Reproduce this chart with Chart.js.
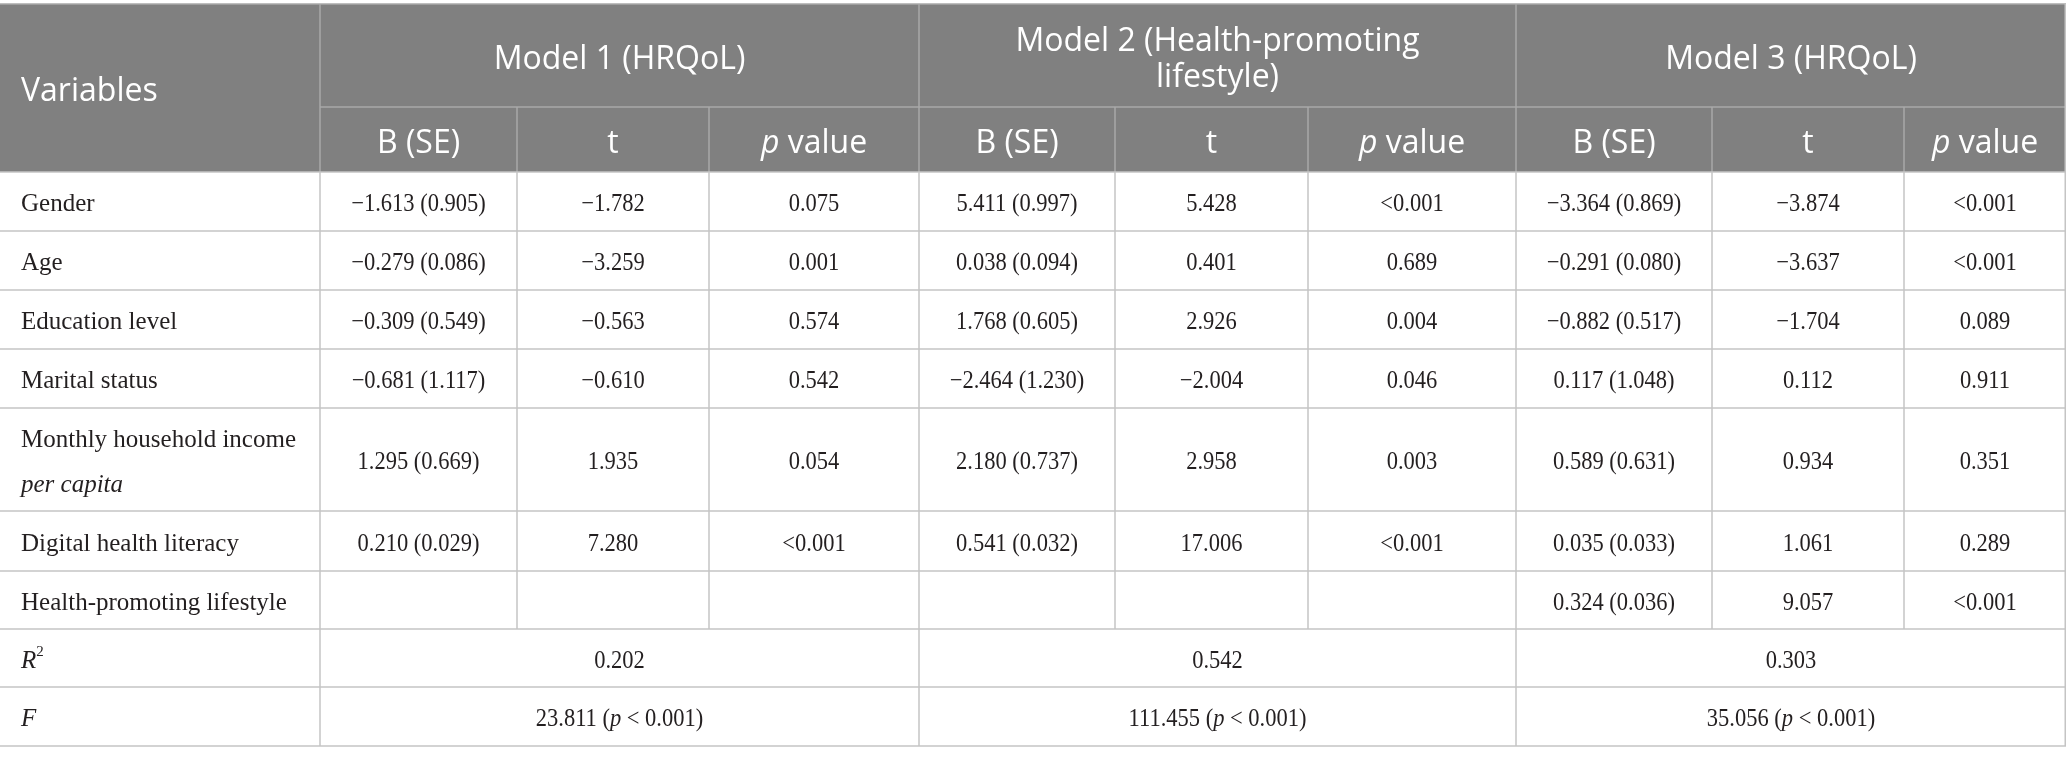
<!DOCTYPE html>
<html>
<head>
<meta charset="utf-8">
<script src="https://cdn.jsdelivr.net/npm/chart.js@4/dist/chart.umd.min.js"></script>
<style>
  html, body { margin: 0; padding: 0; background: #fff; }
  #wrap { width: 2067px; height: 762px; position: relative; }
</style>
</head>
<body>
<div id="wrap"><canvas id="tableChart"></canvas></div>
<script>
// table content
const variables = ["Gender", "Age", "Education level", "Marital status",
    "Monthly household income|per capita", "Digital health literacy", "Health-promoting lifestyle"];
const modelTitles = ["Model 1 (HRQoL)", "Model 2 (Health-promoting|lifestyle)", "Model 3 (HRQoL)"];
const subHeaders = ["B (SE)", "t", "p value"];

const m1B  = [-1.613, -0.279, -0.309, -0.681, 1.295, 0.210, null];
const m1SE = [0.905, 0.086, 0.549, 1.117, 0.669, 0.029, null];
const m1T  = [-1.782, -3.259, -0.563, -0.610, 1.935, 7.280, null];
const m1P  = ["0.075", "0.001", "0.574", "0.542", "0.054", "<0.001", ""];

const m2B  = [5.411, 0.038, 1.768, -2.464, 2.180, 0.541, null];
const m2SE = [0.997, 0.094, 0.605, 1.230, 0.737, 0.032, null];
const m2T  = [5.428, 0.401, 2.926, -2.004, 2.958, 17.006, null];
const m2P  = ["<0.001", "0.689", "0.004", "0.046", "0.003", "<0.001", ""];

const m3B  = [-3.364, -0.291, -0.882, 0.117, 0.589, 0.035, 0.324];
const m3SE = [0.869, 0.080, 0.517, 1.048, 0.631, 0.033, 0.036];
const m3T  = [-3.874, -3.637, -1.704, 0.112, 0.934, 1.061, 9.057];
const m3P  = ["<0.001", "<0.001", "0.089", "0.911", "0.351", "0.289", "<0.001"];

const rSquared = [0.202, 0.542, 0.303];
const fValues  = [23.811, 111.455, 35.056];
const fP = "<0.001";

// layout (in scale units, 1 unit ~ 1px)
const colWidths = [320, 197, 192, 210, 196, 193, 208, 196, 192, 162];
const tableTop = 4;
const rowHeights = [103, 65, 59, 59, 59, 59, 103, 60, 58, 58, 59];

const HEAD_FONT = '"Open Sans", "Noto Sans", sans-serif';
const BODY_FONT = '"Liberation Serif", "DejaVu Serif", serif';
const NUM_SQUEEZE = 0.9;   // reference figures are narrower than Times digits

function fmt(v) {
    if (v === null) return "";
    const s = Math.abs(v).toFixed(3);
    return v < 0 ? "\u2212" + s : s;
}

function cum(start, arr) {
    const out = [start];
    arr.forEach(w => out.push(out[out.length - 1] + w));
    return out;
}

// draw a list of text runs ({t, i, sup}) centred or left aligned
function drawRuns(ctx, runs, x, y, size, family, align, color, squeeze = 1) {
    const fontOf = r => `${r.i ? "italic " : ""}${r.sup ? Math.round(size * 0.6) : size}px ${family}`;
    let total = 0;
    runs.forEach(r => { ctx.font = fontOf(r); total += ctx.measureText(r.t).width; });
    total *= squeeze;
    let cx = align === "center" ? x - total / 2 : x;
    ctx.save();
    ctx.translate(cx, y);
    ctx.scale(squeeze, 1);
    ctx.fillStyle = color;
    ctx.textBaseline = "middle";
    ctx.textAlign = "left";
    let off = 0;
    runs.forEach(r => {
        ctx.font = fontOf(r);
        ctx.fillText(r.t, off, r.sup ? -size * 0.35 : 0);
        off += ctx.measureText(r.t).width;
    });
    ctx.restore();
}

const tablePlugin = {
    id: "tablePlugin",
    afterDraw(chart) {
        const ctx = chart.ctx;
        const sx = chart.scales.x, sy = chart.scales.y;
        const cx = cum(0, colWidths).map(v => sx.getPixelForValue(v));
        const ry = cum(tableTop, rowHeights).map(v => sy.getPixelForValue(v));
        const right = cx[cx.length - 1];

        ctx.save();
        // header background
        ctx.fillStyle = "#808080";
        ctx.fillRect(cx[0], ry[0], right - cx[0], ry[2] - ry[0]);

        const line = (x1, y1, x2, y2, color, w) => {
            ctx.strokeStyle = color;
            ctx.lineWidth = w;
            ctx.beginPath();
            ctx.moveTo(x1, y1);
            ctx.lineTo(x2, y2);
            ctx.stroke();
        };

        // header separators
        const hc = "#a8a8a8";
        line(cx[0], ry[0], right, ry[0], hc, 1.5);
        [1, 4, 7].forEach(c => line(cx[c], ry[0], cx[c], ry[2], hc, 1.5));
        [2, 3, 5, 6, 8, 9].forEach(c => line(cx[c], ry[1], cx[c], ry[2], hc, 1.5));
        line(cx[1], ry[1], right, ry[1], hc, 1.5);

        // body grid
        const bc = "#c4c4c4";
        for (let r = 2; r < ry.length; r++) line(cx[0], ry[r], right, ry[r], bc, 1.5);
        const lastVarRow = 2 + variables.length;
        [1, 4, 7].forEach(c => line(cx[c], ry[2], cx[c], ry[ry.length - 1], bc, 1.5));
        [2, 3, 5, 6, 8, 9].forEach(c => line(cx[c], ry[2], cx[c], ry[lastVarRow], bc, 1.5));
        line(right - 0.75, ry[0], right - 0.75, ry[ry.length - 1], bc, 1.5);

        // header text
        const white = "#ffffff";
        const hs = 32;
        const hOff = 4;
        drawRuns(ctx, [{ t: "Variables" }], cx[0] + 21, (ry[0] + ry[2]) / 2 + hOff, hs, HEAD_FONT, "left", white);
        modelTitles.forEach((title, m) => {
            const x = (cx[1 + m * 3] + cx[4 + m * 3]) / 2;
            const lines = title.split("|");
            const mid = (ry[0] + ry[1]) / 2 + hOff;
            const lh = 36;
            lines.forEach((ln, k) => {
                const y = mid + (k - (lines.length - 1) / 2) * lh;
                drawRuns(ctx, [{ t: ln }], x, y, hs, HEAD_FONT, "center", white);
            });
            subHeaders.forEach((sh, k) => {
                const c = 1 + m * 3 + k;
                const sx2 = (cx[c] + cx[c + 1]) / 2;
                const runs = sh === "p value" ? [{ t: "p", i: true }, { t: " value" }] : [{ t: sh }];
                drawRuns(ctx, runs, sx2, (ry[1] + ry[2]) / 2 + hOff, hs, HEAD_FONT, "center", white);
            });
        });

        // body text
        const ink = "#231f20";
        const bs = 25;
        const bOff = 3;
        const models = [[m1B, m1SE, m1T, m1P], [m2B, m2SE, m2T, m2P], [m3B, m3SE, m3T, m3P]];
        variables.forEach((v, i) => {
            const top = ry[2 + i], bot = ry[3 + i];
            const mid = (top + bot) / 2 + bOff;
            const parts = v.split("|");
            if (parts.length === 1) {
                drawRuns(ctx, [{ t: v }], cx[0] + 21, mid, bs, BODY_FONT, "left", ink);
            } else {
                drawRuns(ctx, [{ t: parts[0] }], cx[0] + 21, mid - 22, bs, BODY_FONT, "left", ink);
                drawRuns(ctx, [{ t: parts[1], i: true }], cx[0] + 21, mid + 23, bs, BODY_FONT, "left", ink);
            }
            models.forEach(([b, se, t, p], m) => {
                const c = 1 + m * 3;
                const cells = [
                    b[i] === null ? "" : `${fmt(b[i])} (${fmt(se[i])})`,
                    fmt(t[i]),
                    p[i]
                ];
                cells.forEach((txt, k) => {
                    if (!txt) return;
                    const x = (cx[c + k] + cx[c + k + 1]) / 2;
                    drawRuns(ctx, [{ t: txt }], x, mid, bs, BODY_FONT, "center", ink, NUM_SQUEEZE);
                });
            });
        });

        // R2 and F rows
        const rRow = 2 + variables.length;
        const rMid = (ry[rRow] + ry[rRow + 1]) / 2 + bOff;
        const fMid = (ry[rRow + 1] + ry[rRow + 2]) / 2 + bOff;
        drawRuns(ctx, [{ t: "R", i: true }, { t: "2", sup: true }], cx[0] + 21, rMid, bs, BODY_FONT, "left", ink);
        drawRuns(ctx, [{ t: "F", i: true }], cx[0] + 21, fMid, bs, BODY_FONT, "left", ink);
        rSquared.forEach((r, m) => {
            const x = (cx[1 + m * 3] + cx[4 + m * 3]) / 2;
            drawRuns(ctx, [{ t: r.toFixed(3) }], x, rMid, bs, BODY_FONT, "center", ink, NUM_SQUEEZE);
            drawRuns(ctx, [
                { t: fValues[m].toFixed(3) + " (" },
                { t: "p", i: true },
                { t: " < " + fP.replace("<", "") + ")" }
            ], x, fMid, bs, BODY_FONT, "center", ink, NUM_SQUEEZE);
        });
        ctx.restore();
    }
};

new Chart(document.getElementById("tableChart"), {
    type: "scatter",
    data: { datasets: [{ data: [], pointRadius: 0 }] },
    options: {
        responsive: true,
        maintainAspectRatio: false,
        animation: false,
        layout: { padding: 0 },
        plugins: { legend: { display: false }, tooltip: { enabled: false } },
        scales: {
            x: { type: "linear", display: false, min: 0, max: 2067 },
            y: { type: "linear", display: false, reverse: true, min: 0, max: 762 }
        }
    },
    plugins: [tablePlugin]
});
</script>
</body>
</html>
